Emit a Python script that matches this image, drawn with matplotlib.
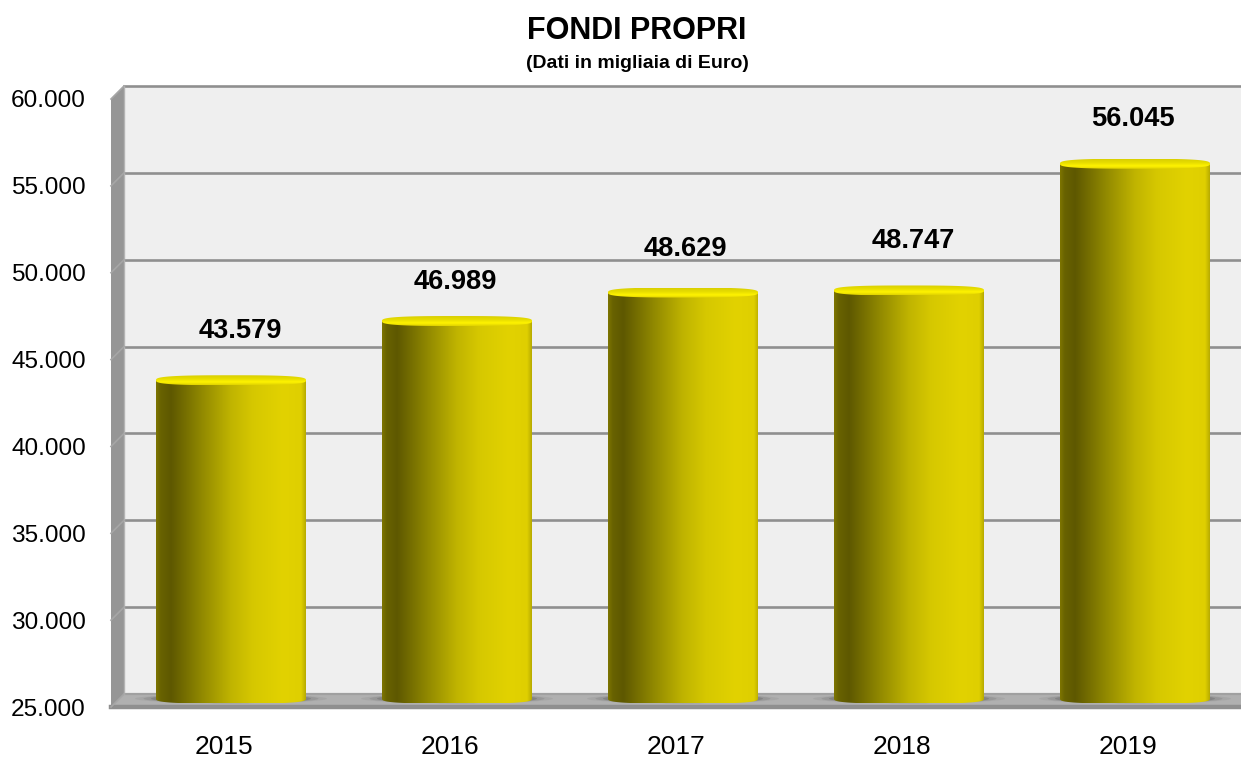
import numpy as np
from matplotlib import pyplot as plt
from matplotlib.colors import LinearSegmentedColormap
from matplotlib.patches import Ellipse, Polygon, PathPatch
from matplotlib.path import Path

W, H = 1241, 758

# chart data
years = ['2015', '2016', '2017', '2018', '2019']
values = [43579, 46989, 48629, 48747, 56045]
value_labels = ['43.579', '46.989', '48.629', '48.747', '56.045']
y_ticks = [25000, 30000, 35000, 40000, 45000, 50000, 55000, 60000]
y_labels = ['25.000', '30.000', '35.000', '40.000', '45.000', '50.000', '55.000', '60.000']

# label nudges in pixels, from the top of each bar
label_dx = [9, -2, 2, 4, -2]
label_dy = [49, 39, 44, 49, 45]

plt.rcParams['font.family'] = ['Liberation Sans', 'DejaVu Sans']


def px(x, y):
    return x / W, 1 - y / H


def make_ax(left, top, bottom, z):
    ax = fig.add_axes([left / W, 1 - bottom / H, 1117 / W, (bottom - top) / H])
    ax.set_xlim(-0.5, -0.5 + 1117 / 226)
    ax.set_ylim(25000, 60000)
    ax.patch.set_visible(False)
    for s in ax.spines.values():
        s.set_visible(False)
    ax.set_zorder(z)
    return ax


# rounded oval, flatter than a true ellipse, like the caps in the original
def oval(cx, cy, a, b, n=3.0):
    t = np.linspace(0, 2 * np.pi, 200)
    xs = cx + a * np.sign(np.cos(t)) * np.abs(np.cos(t)) ** (2 / n)
    ys = cy + b * np.sign(np.sin(t)) * np.abs(np.sin(t)) ** (2 / n)
    return Path(np.column_stack([xs, ys]), closed=True)


fig = plt.figure(figsize=(W / 100, H / 100), dpi=100, facecolor='white')

# back wall with the grid
back = make_ax(124, 86, 694, 1)
back.patch.set_visible(True)
back.patch.set_facecolor('#efefef')
back.set_xticks([])
back.set_yticks(y_ticks)
back.tick_params(left=False, labelleft=False)
back.grid(True, axis='y', color='#8f8f8f', linewidth=1.9)
back.set_axisbelow(True)
for line in back.get_ygridlines():
    line.set_clip_on(False)


def wall(points, color, z=2):
    fig.add_artist(Polygon([px(*p) for p in points], closed=True, facecolor=color,
                           edgecolor='none', transform=fig.transFigure, zorder=z))


def edge(points, color, lw):
    xs, ys = zip(*[px(*p) for p in points])
    fig.add_artist(plt.Line2D(xs, ys, color=color, linewidth=lw, transform=fig.transFigure, zorder=3))


# side wall and floor
wall([(124, 86), (111, 99), (111, 707), (124, 694)], '#969696')
wall([(124, 694), (111, 707), (1241, 707), (1241, 694)], '#b0b0b0')
edge([(124, 694), (1241, 694)], '#a0a0a0', 1.6)
edge([(124, 86), (124, 694)], '#b4b4b4', 1.0)
edge([(111, 706.5), (1241, 706.5)], '#8f8f8f', 3.2)
for k in range(8):
    y = 86 + k * 86.86
    edge([(124, y), (111, y + 13)], '#a6a6a6', 1.2)

# cylinders sit between wall and front plane
mid = make_ax(118, 95, 703, 5)
mid.set_xticks([])
mid.set_yticks([])

body_cmap = LinearSegmentedColormap.from_list('body', [
    (0.0, '#7d7500'), (0.03, '#686200'), (0.1, '#5e5800'), (0.3, '#908800'), (0.5, '#c0b400'),
    (0.65, '#d6c800'), (0.85, '#e2d200'), (0.97, '#dfcf00'), (1.0, '#b8ac00')])
cap_cmap = LinearSegmentedColormap.from_list('cap', [
    (0.0, '#d9cf00'), (0.35, '#e6dc00'), (0.7, '#fff300'), (1.0, '#e0d200')])

bar_w = 150 / 226
cap_h = 10 * 35000 / 608
base = 25250
for i, v in enumerate(values):
    # shadow on the floor
    for sw, a in [(192, 0.10), (175, 0.18), (160, 0.3)]:
        mid.add_patch(Ellipse((i, base), sw / 226, 9 * 35000 / 608, facecolor='#555555',
                              edgecolor='none', alpha=a, clip_on=False, zorder=1))
    left, right = i - bar_w / 2, i + bar_w / 2
    rect = Path([(left, v), (left, base), (right, base), (right, v), (left, v)], closed=True)
    shape = PathPatch(Path.make_compound_path(rect, oval(i, base, bar_w / 2, cap_h / 2)),
                      transform=mid.transData, facecolor='none', edgecolor='none')
    mid.add_patch(shape)
    im = mid.imshow(np.linspace(0, 1, 256).reshape(1, -1), cmap=body_cmap, aspect='auto',
                    extent=(left, right, base - cap_h, v), zorder=2, interpolation='bilinear')
    im.set_clip_path(shape)
    im.set_clip_box(None)

    cap = PathPatch(oval(i, v, bar_w / 2, cap_h / 2), transform=mid.transData,
                    facecolor='none', edgecolor='none')
    mid.add_patch(cap)
    im2 = mid.imshow(np.linspace(0, 1, 64).reshape(-1, 1), cmap=cap_cmap, aspect='auto',
                     extent=(left, right, v - cap_h / 2, v + cap_h / 2), origin='upper', zorder=3,
                     interpolation='bilinear')
    im2.set_clip_path(cap)

    mid.annotate(value_labels[i], xy=(i, v), xytext=(label_dx[i], label_dy[i]),
                 textcoords='offset pixels', ha='center', va='center',
                 fontsize=19.6, fontweight='bold', color='black', annotation_clip=False, zorder=6)
mid.set_xlim(-0.5, -0.5 + 1117 / 226)
mid.set_ylim(25000, 60000)

# tick labels belong to the front plane
front = make_ax(111, 99, 707, 6)
front.set_xticks(range(len(years)))
front.set_xticklabels(years, fontsize=19)
front.set_yticks(y_ticks)
front.set_yticklabels(y_labels, fontsize=17.6)
front.tick_params(axis='x', length=0, pad=20)
front.tick_params(axis='y', length=0, pad=18)

fig.text(*px(637, 31), 'FONDI PROPRI', ha='center', va='center', fontsize=22, fontweight='bold')
fig.text(*px(637, 64), '(Dati in migliaia di Euro)', ha='center', va='center', fontsize=14, fontweight='bold')

plt.savefig('out.png', dpi=100)
